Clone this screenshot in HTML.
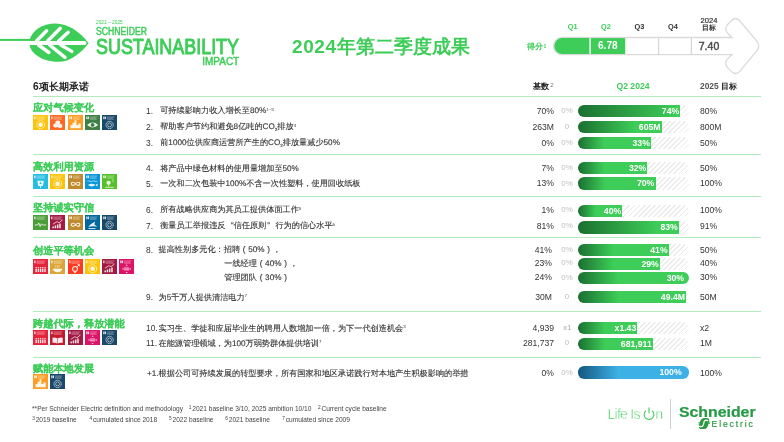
<!DOCTYPE html>
<html><head><meta charset="utf-8">
<style>
html,body{margin:0;padding:0;background:#fff;}
body{width:784px;height:442px;position:relative;overflow:hidden;font-family:"Liberation Sans",sans-serif;}
#wrap{position:absolute;left:0;top:0;width:784px;height:442px;will-change:transform;}
.abs{position:absolute;}
.t{position:absolute;white-space:nowrap;}
sup{font-size:55%;vertical-align:0;position:relative;top:-0.6em;color:#333;-webkit-text-stroke:0;letter-spacing:0;}
.fw{display:inline-block;width:8.2px;text-align:center;}
sub{font-size:55%;vertical-align:0;position:relative;top:0.25em;}
.hatch{background:repeating-linear-gradient(135deg,#ebebeb 0px,#ebebeb 1.3px,#fff 1.3px,#fff 3.6px);border-radius:6px;}
.rt{-webkit-text-stroke:0.12px #333;text-rendering:geometricPrecision;}
.gp{text-rendering:geometricPrecision;}
</style></head><body><div id="wrap">
<svg class="abs" style="left:0;top:0" width="100" height="70" viewBox="0 0 100 70">
<rect x="0" y="38.9" width="31" height="2" fill="#3dcd58"/>
<path d="M29.6,39.8 C32,31 42,23.6 55.5,23.6 C68,23.6 80,32 88.6,43.2 C80,54 70,61.7 58.6,61.7 C43,61.7 31,54 29.6,44.9 Z" fill="#3dcd58"/>
<path d="M29,42.9 L84.5,42.9" stroke="#fff" stroke-width="4" stroke-linecap="round"/>
<g stroke="#fff" stroke-width="3.4" stroke-linecap="round" fill="none">
<path d="M36.5,41 L46.6,30.8"/><path d="M47.6,41 L60.3,28.3"/><path d="M58.8,41 L68.2,32.2"/>
<path d="M38.5,45 L48.9,52.5"/><path d="M49.6,45 L65,57.4"/><path d="M60.8,45 L71.8,51.4"/>
</g>
</svg>
<div class="t " style="left:96px;top:20.10px;font-size:5.6px;line-height:5.6px;color:#3dcd58;font-weight:normal;transform-origin:0 50%;transform:scaleX(0.86);">2021 – 2025</div>
<div class="t " style="left:96.2px;top:27.30px;font-size:10px;line-height:10px;color:#3dcd58;font-weight:normal;-webkit-text-stroke:0.45px #3dcd58;transform-origin:0 50%;transform:scaleX(0.865);">SCHNEIDER</div>
<div class="t " style="left:95.8px;top:36.00px;font-size:22.4px;line-height:22.4px;color:#3dcd58;font-weight:normal;-webkit-text-stroke:1px #3dcd58;transform-origin:0 50%;transform:scaleX(0.80);">SUSTAINABILITY</div>
<div class="t " style="left:202.2px;top:57.20px;font-size:10px;line-height:10px;color:#3dcd58;font-weight:normal;-webkit-text-stroke:0.45px #3dcd58;transform-origin:0 50%;transform:scaleX(1.0);">IMPACT</div>
<div class="t " style="left:292px;top:36.70px;font-size:19px;line-height:19px;color:#3dcd58;font-weight:bold;"><span style="letter-spacing:0.6px">2024</span>年第二季度成果</div>
<svg class="abs" style="left:0;top:0" width="784" height="90" viewBox="0 0 784 90">
<path d="M562,37.5 L732,37.5 L728,33.5 Q723.6,29 727.6,24.5 L731.5,20.5 Q735.5,16.6 739.5,20.5 L756.8,41.2 Q760.6,46.05 756.8,50.9 L739.5,71.6 Q735.5,75.5 731.5,71.6 L727.6,67.6 Q723.6,63.1 728,58.6 L732,54.6 L562,54.6 A8.55,8.55 0 0 1 562,37.5 Z" fill="#fff" stroke="#dadada" stroke-width="1.3"/>
<path d="M562.2,38.1 L589.4,38.1 L589.4,54 L562.2,54 A7.95,7.95 0 0 1 562.2,38.1 Z" fill="#3dcd58"/>
<rect x="590.8" y="38.1" width="34.4" height="15.9" fill="#3dcd58"/>
<line x1="658.6" y1="38" x2="658.6" y2="54.2" stroke="#d6d6d6" stroke-width="1.2"/>
<line x1="691.4" y1="38" x2="691.4" y2="54.2" stroke="#d6d6d6" stroke-width="1.2"/>
</svg>
<div class="t " style="left:572.6px;top:22.90px;font-size:7.4px;line-height:7.4px;color:#3dcd58;font-weight:bold;transform:translateX(-50%);">Q1</div>
<div class="t " style="left:606px;top:22.90px;font-size:7.4px;line-height:7.4px;color:#3dcd58;font-weight:bold;transform:translateX(-50%);">Q2</div>
<div class="t " style="left:639.4px;top:22.90px;font-size:7.4px;line-height:7.4px;color:#333;font-weight:bold;transform:translateX(-50%);">Q3</div>
<div class="t " style="left:673px;top:22.90px;font-size:7.4px;line-height:7.4px;color:#333;font-weight:bold;transform:translateX(-50%);">Q4</div>
<div class="t " style="left:709px;top:16.60px;font-size:7.6px;line-height:7.6px;color:#333;font-weight:normal;transform:translateX(-50%);-webkit-text-stroke:0.2px #333;">2024</div>
<div class="t " style="left:709px;top:24.30px;font-size:7.4px;line-height:7.4px;color:#333;font-weight:bold;transform:translateX(-50%);">目标</div>
<div class="t " style="left:527px;top:42.40px;font-size:8.4px;line-height:8.4px;color:#3dcd58;font-weight:bold;">得分<span style="font-size:5px;position:relative;top:-1.6px;margin-left:0.6px">1</span></div>
<div class="t " style="left:607.8px;top:41.25px;font-size:10.1px;line-height:10.1px;color:#fff;font-weight:bold;transform:translateX(-50%);">6.78</div>
<div class="t " style="left:709px;top:41.05px;font-size:10.5px;line-height:10.5px;color:#4a4a4a;font-weight:normal;transform:translateX(-50%);-webkit-text-stroke:0.45px #4a4a4a;">7.40</div>
<div class="t " style="left:33px;top:82.00px;font-size:10.2px;line-height:10.2px;color:#222;font-weight:bold;">6项长期承诺</div>
<div class="t " style="left:533px;top:82.90px;font-size:8.2px;line-height:8.2px;color:#222;font-weight:bold;">基数<span style="font-size:6px;color:#777;font-weight:normal;position:relative;top:-2.2px;margin-left:1.2px">2</span></div>
<div class="t " style="left:633px;top:82.30px;font-size:8.6px;line-height:8.6px;color:#3dcd58;font-weight:bold;transform:translateX(-50%);">Q2 2024</div>
<div class="t " style="left:700px;top:82.30px;font-size:8.4px;line-height:8.4px;color:#222;font-weight:bold;"><span style="color:#555">2025</span> <span style="font-size:7.6px">目标</span></div>
<div class="abs" style="left:33px;top:96.0px;width:728px;height:1px;background:#b2e9bd"></div>
<div class="abs" style="left:33px;top:154.0px;width:728px;height:1px;background:#b2e9bd"></div>
<div class="abs" style="left:33px;top:196.0px;width:728px;height:1px;background:#b2e9bd"></div>
<div class="abs" style="left:33px;top:237.0px;width:728px;height:1px;background:#b2e9bd"></div>
<div class="abs" style="left:33px;top:311.3px;width:728px;height:1px;background:#b2e9bd"></div>
<div class="abs" style="left:33px;top:356.9px;width:728px;height:1px;background:#b2e9bd"></div>
<div class="t gp" style="left:33px;top:104.10px;font-size:10.2px;line-height:10.2px;color:#3dcd58;font-weight:bold;-webkit-text-stroke:0.1px #3dcd58;">应对气候变化</div>
<svg class="abs" style="left:33.0px;top:114.9px" width="15.2" height="15.2" viewBox="0 0 15 15"><rect width="15" height="15" fill="#FCC30B"/><rect x="1.20" y="1.5" width="1.25" height="2.6" fill="#fff" opacity=".85"/><path d="M3.45,2 H12.2 M3.45,3.1 H11 M3.45,4.2 H11.6" stroke="#fff" stroke-width=".6" opacity=".55"/><g opacity=".9" transform="translate(7.5,9.8) scale(1.12) translate(-7.5,-9.6)"><circle cx="7.5" cy="9.4" r="2" fill="#fff"/><circle cx="7.5" cy="9.4" r="3.5" stroke="#fff" stroke-width=".9" stroke-dasharray=".8 .65" fill="none"/></g></svg>
<svg class="abs" style="left:50.25px;top:114.9px" width="15.2" height="15.2" viewBox="0 0 15 15"><rect width="15" height="15" fill="#FD6925"/><rect x="1.20" y="1.5" width="1.25" height="2.6" fill="#fff" opacity=".85"/><path d="M3.45,2 H12.2 M3.45,3.1 H11 M3.45,4.2 H11.6" stroke="#fff" stroke-width=".6" opacity=".55"/><g opacity=".9" transform="translate(7.5,9.8) scale(1.12) translate(-7.5,-9.6)"><path d="M3.8,9 l2,-1 l2,1 v2.2 l-2,1 l-2,-1 z M7.6,9.4 l2,-1 l2,1 v2.2 l-2,1 l-2,-1 z M5.7,6.4 l2,-1 l2,1 v2 l-2,1 l-2,-1 z" fill="#fff"/></g></svg>
<svg class="abs" style="left:67.5px;top:114.9px" width="15.2" height="15.2" viewBox="0 0 15 15"><rect width="15" height="15" fill="#FD9D24"/><rect x="1.20" y="1.5" width="1.25" height="2.6" fill="#fff" opacity=".85"/><rect x="2.75" y="1.5" width="1.25" height="2.6" fill="#fff" opacity=".85"/><path d="M5.00,2 H12.2 M5.00,3.1 H11 M5.00,4.2 H11.6" stroke="#fff" stroke-width=".6" opacity=".55"/><g opacity=".9" transform="translate(7.5,9.8) scale(1.12) translate(-7.5,-9.6)"><path d="M3,12.6 v-3 h1.8 v-2 h1.8 v-2.2 h1.6 v4.2 h1.8 v-1.2 h2 v4.2 z" fill="#fff"/></g></svg>
<svg class="abs" style="left:84.75px;top:114.9px" width="15.2" height="15.2" viewBox="0 0 15 15"><rect width="15" height="15" fill="#3F7E44"/><rect x="1.20" y="1.5" width="1.25" height="2.6" fill="#fff" opacity=".85"/><rect x="2.75" y="1.5" width="1.25" height="2.6" fill="#fff" opacity=".85"/><path d="M5.00,2 H12.2 M5.00,3.1 H11 M5.00,4.2 H11.6" stroke="#fff" stroke-width=".6" opacity=".55"/><g opacity=".9" transform="translate(7.5,9.8) scale(1.12) translate(-7.5,-9.6)"><path d="M2.6,9.6 q4.9,-4.4 9.8,0 q-4.9,4.4 -9.8,0 z" fill="#fff"/><circle cx="7.5" cy="9.6" r="1.7" fill="#3F7E44"/></g></svg>
<svg class="abs" style="left:102.0px;top:114.9px" width="15.2" height="15.2" viewBox="0 0 15 15"><rect width="15" height="15" fill="#19486A"/><rect x="1.20" y="1.5" width="1.25" height="2.6" fill="#fff" opacity=".85"/><rect x="2.75" y="1.5" width="1.25" height="2.6" fill="#fff" opacity=".85"/><path d="M5.00,2 H12.2 M5.00,3.1 H11 M5.00,4.2 H11.6" stroke="#fff" stroke-width=".6" opacity=".55"/><g opacity=".9" transform="translate(7.5,9.8) scale(1.12) translate(-7.5,-9.6)"><circle cx="7.5" cy="9.6" r="3.2" stroke="#fff" stroke-width=".75" stroke-dasharray="1.3 .5" fill="none"/><circle cx="7.5" cy="9.6" r="1.7" stroke="#fff" stroke-width=".55" fill="none"/></g></svg>
<div class="t gp" style="left:33px;top:163.10px;font-size:10.2px;line-height:10.2px;color:#3dcd58;font-weight:bold;-webkit-text-stroke:0.1px #3dcd58;">高效利用资源</div>
<svg class="abs" style="left:33.0px;top:174.0px" width="15.2" height="15.2" viewBox="0 0 15 15"><rect width="15" height="15" fill="#26BDE2"/><rect x="1.20" y="1.5" width="1.25" height="2.6" fill="#fff" opacity=".85"/><path d="M3.45,2 H12.2 M3.45,3.1 H11 M3.45,4.2 H11.6" stroke="#fff" stroke-width=".6" opacity=".55"/><g opacity=".9" transform="translate(7.5,9.8) scale(1.12) translate(-7.5,-9.6)"><path d="M4.6,6.8 h5.8 l-.9,4.6 h-4 z" fill="#fff"/><path d="M7.5,11.4 v1.9" stroke="#fff" stroke-width=".9"/><path d="M7.5,7.6 l-1,1.6 a1.1,1.1 0 0 0 2,0 z" fill="#26BDE2"/></g></svg>
<svg class="abs" style="left:50.25px;top:174.0px" width="15.2" height="15.2" viewBox="0 0 15 15"><rect width="15" height="15" fill="#FCC30B"/><rect x="1.20" y="1.5" width="1.25" height="2.6" fill="#fff" opacity=".85"/><path d="M3.45,2 H12.2 M3.45,3.1 H11 M3.45,4.2 H11.6" stroke="#fff" stroke-width=".6" opacity=".55"/><g opacity=".9" transform="translate(7.5,9.8) scale(1.12) translate(-7.5,-9.6)"><circle cx="7.5" cy="9.4" r="2" fill="#fff"/><circle cx="7.5" cy="9.4" r="3.5" stroke="#fff" stroke-width=".9" stroke-dasharray=".8 .65" fill="none"/></g></svg>
<svg class="abs" style="left:67.5px;top:174.0px" width="15.2" height="15.2" viewBox="0 0 15 15"><rect width="15" height="15" fill="#BF8B2E"/><rect x="1.20" y="1.5" width="1.25" height="2.6" fill="#fff" opacity=".85"/><rect x="2.75" y="1.5" width="1.25" height="2.6" fill="#fff" opacity=".85"/><path d="M5.00,2 H12.2 M5.00,3.1 H11 M5.00,4.2 H11.6" stroke="#fff" stroke-width=".6" opacity=".55"/><g opacity=".9" transform="translate(7.5,9.8) scale(1.12) translate(-7.5,-9.6)"><path d="M7.5,9.5 c-1.3,-1.8 -3.8,-1.8 -3.8,0 c0,1.8 2.5,1.8 3.8,0 c1.3,-1.8 3.8,-1.8 3.8,0 c0,1.8 -2.5,1.8 -3.8,0 z" stroke="#fff" stroke-width=".95" fill="none"/></g></svg>
<svg class="abs" style="left:84.75px;top:174.0px" width="15.2" height="15.2" viewBox="0 0 15 15"><rect width="15" height="15" fill="#0A97D9"/><rect x="1.20" y="1.5" width="1.25" height="2.6" fill="#fff" opacity=".85"/><rect x="2.75" y="1.5" width="1.25" height="2.6" fill="#fff" opacity=".85"/><path d="M5.00,2 H12.2 M5.00,3.1 H11 M5.00,4.2 H11.6" stroke="#fff" stroke-width=".6" opacity=".55"/><g opacity=".9" transform="translate(7.5,9.8) scale(1.12) translate(-7.5,-9.6)"><path d="M3,7.2 q1.1,-.6 2.2,0 t2.2,0 t2.2,0 t2.2,0" stroke="#fff" stroke-width=".6" fill="none"/><path d="M3.4,10.6 q3.4,-2.4 6.6,0 q-3.2,2.4 -6.6,0 z M10,10.6 l1.8,-1.3 v2.6 z" fill="#fff"/></g></svg>
<svg class="abs" style="left:102.0px;top:174.0px" width="15.2" height="15.2" viewBox="0 0 15 15"><rect width="15" height="15" fill="#56C02B"/><rect x="1.20" y="1.5" width="1.25" height="2.6" fill="#fff" opacity=".85"/><rect x="2.75" y="1.5" width="1.25" height="2.6" fill="#fff" opacity=".85"/><path d="M5.00,2 H12.2 M5.00,3.1 H11 M5.00,4.2 H11.6" stroke="#fff" stroke-width=".6" opacity=".55"/><g opacity=".9" transform="translate(7.5,9.8) scale(1.12) translate(-7.5,-9.6)"><circle cx="6.6" cy="8.6" r="1.9" fill="#fff"/><path d="M6.6,10.4 v1.4 M3.6,12.6 h7.6 M9.6,6.6 l1.2,-.8 M10.2,8 l1,-.6" stroke="#fff" stroke-width=".7"/></g></svg>
<div class="t gp" style="left:33px;top:204.20px;font-size:10.2px;line-height:10.2px;color:#3dcd58;font-weight:bold;-webkit-text-stroke:0.1px #3dcd58;">坚持诚实守信</div>
<svg class="abs" style="left:33.0px;top:214.8px" width="15.2" height="15.2" viewBox="0 0 15 15"><rect width="15" height="15" fill="#4C9F38"/><rect x="1.20" y="1.5" width="1.25" height="2.6" fill="#fff" opacity=".85"/><path d="M3.45,2 H12.2 M3.45,3.1 H11 M3.45,4.2 H11.6" stroke="#fff" stroke-width=".6" opacity=".55"/><g opacity=".9" transform="translate(7.5,9.8) scale(1.12) translate(-7.5,-9.6)"><path d="M2.4,9.6 h2.6 l.9,-1.8 l1.2,3.2 l1.1,-2.4 l.7,1 h3.6" stroke="#fff" stroke-width=".75" fill="none"/></g></svg>
<svg class="abs" style="left:50.25px;top:214.8px" width="15.2" height="15.2" viewBox="0 0 15 15"><rect width="15" height="15" fill="#A21942"/><rect x="1.20" y="1.5" width="1.25" height="2.6" fill="#fff" opacity=".85"/><path d="M3.45,2 H12.2 M3.45,3.1 H11 M3.45,4.2 H11.6" stroke="#fff" stroke-width=".6" opacity=".55"/><g opacity=".9" transform="translate(7.5,9.8) scale(1.12) translate(-7.5,-9.6)"><path d="M3.6,12.6 v-1.6 M5.6,12.6 v-2.6 M7.6,12.6 v-3.4 M9.6,12.6 v-4.2" stroke="#fff" stroke-width="1.3"/><path d="M3.4,9 l3.4,-2.2 l2,.8 l3,-2.4" stroke="#fff" stroke-width=".7" fill="none"/></g></svg>
<svg class="abs" style="left:67.5px;top:214.8px" width="15.2" height="15.2" viewBox="0 0 15 15"><rect width="15" height="15" fill="#BF8B2E"/><rect x="1.20" y="1.5" width="1.25" height="2.6" fill="#fff" opacity=".85"/><rect x="2.75" y="1.5" width="1.25" height="2.6" fill="#fff" opacity=".85"/><path d="M5.00,2 H12.2 M5.00,3.1 H11 M5.00,4.2 H11.6" stroke="#fff" stroke-width=".6" opacity=".55"/><g opacity=".9" transform="translate(7.5,9.8) scale(1.12) translate(-7.5,-9.6)"><path d="M7.5,9.5 c-1.3,-1.8 -3.8,-1.8 -3.8,0 c0,1.8 2.5,1.8 3.8,0 c1.3,-1.8 3.8,-1.8 3.8,0 c0,1.8 -2.5,1.8 -3.8,0 z" stroke="#fff" stroke-width=".95" fill="none"/></g></svg>
<svg class="abs" style="left:84.75px;top:214.8px" width="15.2" height="15.2" viewBox="0 0 15 15"><rect width="15" height="15" fill="#00689D"/><rect x="1.20" y="1.5" width="1.25" height="2.6" fill="#fff" opacity=".85"/><rect x="2.75" y="1.5" width="1.25" height="2.6" fill="#fff" opacity=".85"/><path d="M5.00,2 H12.2 M5.00,3.1 H11 M5.00,4.2 H11.6" stroke="#fff" stroke-width=".6" opacity=".55"/><g opacity=".9" transform="translate(7.5,9.8) scale(1.12) translate(-7.5,-9.6)"><path d="M3.6,11.2 l2.8,-2.6 l3.4,-2 l-.8,2.6 l2.6,1.8 l-4,-.2 z" fill="#fff"/><path d="M4,12.8 h6" stroke="#fff" stroke-width=".8"/></g></svg>
<svg class="abs" style="left:102.0px;top:214.8px" width="15.2" height="15.2" viewBox="0 0 15 15"><rect width="15" height="15" fill="#19486A"/><rect x="1.20" y="1.5" width="1.25" height="2.6" fill="#fff" opacity=".85"/><rect x="2.75" y="1.5" width="1.25" height="2.6" fill="#fff" opacity=".85"/><path d="M5.00,2 H12.2 M5.00,3.1 H11 M5.00,4.2 H11.6" stroke="#fff" stroke-width=".6" opacity=".55"/><g opacity=".9" transform="translate(7.5,9.8) scale(1.12) translate(-7.5,-9.6)"><circle cx="7.5" cy="9.6" r="3.2" stroke="#fff" stroke-width=".75" stroke-dasharray="1.3 .5" fill="none"/><circle cx="7.5" cy="9.6" r="1.7" stroke="#fff" stroke-width=".55" fill="none"/></g></svg>
<div class="t gp" style="left:33px;top:247.30px;font-size:10.2px;line-height:10.2px;color:#3dcd58;font-weight:bold;-webkit-text-stroke:0.1px #3dcd58;">创造平等机会</div>
<svg class="abs" style="left:33.0px;top:259.0px" width="15.2" height="15.2" viewBox="0 0 15 15"><rect width="15" height="15" fill="#E5243B"/><rect x="1.20" y="1.5" width="1.25" height="2.6" fill="#fff" opacity=".85"/><path d="M3.45,2 H12.2 M3.45,3.1 H11 M3.45,4.2 H11.6" stroke="#fff" stroke-width=".6" opacity=".55"/><g opacity=".9" transform="translate(7.5,9.8) scale(1.12) translate(-7.5,-9.6)"><circle cx="3.6" cy="8.6" r="0.65" fill="#fff"/><rect x="3.0" y="9.5" width="1.2" height="2.9" fill="#fff"/><circle cx="5.6" cy="8.6" r="0.65" fill="#fff"/><rect x="5.0" y="9.5" width="1.2" height="2.9" fill="#fff"/><circle cx="7.5" cy="8.6" r="0.65" fill="#fff"/><rect x="6.9" y="9.5" width="1.2" height="2.9" fill="#fff"/><circle cx="9.4" cy="8.6" r="0.65" fill="#fff"/><rect x="8.8" y="9.5" width="1.2" height="2.9" fill="#fff"/><circle cx="11.4" cy="8.6" r="0.65" fill="#fff"/><rect x="10.8" y="9.5" width="1.2" height="2.9" fill="#fff"/></g></svg>
<svg class="abs" style="left:50.25px;top:259.0px" width="15.2" height="15.2" viewBox="0 0 15 15"><rect width="15" height="15" fill="#DDA63A"/><rect x="1.20" y="1.5" width="1.25" height="2.6" fill="#fff" opacity=".85"/><path d="M3.45,2 H12.2 M3.45,3.1 H11 M3.45,4.2 H11.6" stroke="#fff" stroke-width=".6" opacity=".55"/><g opacity=".9" transform="translate(7.5,9.8) scale(1.12) translate(-7.5,-9.6)"><path d="M3.4,9.4 h8.2 a4.1,3.1 0 0 1 -8.2,0 z" fill="#fff"/><path d="M6,8.4 q-.6,-1 0,-2 M7.5,8.4 q-.6,-1 0,-2 M9,8.4 q-.6,-1 0,-2" stroke="#fff" stroke-width=".5" fill="none"/></g></svg>
<svg class="abs" style="left:67.5px;top:259.0px" width="15.2" height="15.2" viewBox="0 0 15 15"><rect width="15" height="15" fill="#FF3A21"/><rect x="1.20" y="1.5" width="1.25" height="2.6" fill="#fff" opacity=".85"/><path d="M3.45,2 H12.2 M3.45,3.1 H11 M3.45,4.2 H11.6" stroke="#fff" stroke-width=".6" opacity=".55"/><g opacity=".9" transform="translate(7.5,9.8) scale(1.12) translate(-7.5,-9.6)"><circle cx="7" cy="9.6" r="2.1" stroke="#fff" stroke-width=".9" fill="none"/><path d="M8.5,8.1 l2.2,-2.2 M9.3,5.8 h1.5 v1.5 M7,11.7 v1.6 M6.1,12.6 h1.8" stroke="#fff" stroke-width=".8" fill="none"/></g></svg>
<svg class="abs" style="left:84.75px;top:259.0px" width="15.2" height="15.2" viewBox="0 0 15 15"><rect width="15" height="15" fill="#FCC30B"/><rect x="1.20" y="1.5" width="1.25" height="2.6" fill="#fff" opacity=".85"/><path d="M3.45,2 H12.2 M3.45,3.1 H11 M3.45,4.2 H11.6" stroke="#fff" stroke-width=".6" opacity=".55"/><g opacity=".9" transform="translate(7.5,9.8) scale(1.12) translate(-7.5,-9.6)"><circle cx="7.5" cy="9.4" r="2" fill="#fff"/><circle cx="7.5" cy="9.4" r="3.5" stroke="#fff" stroke-width=".9" stroke-dasharray=".8 .65" fill="none"/></g></svg>
<svg class="abs" style="left:102.0px;top:259.0px" width="15.2" height="15.2" viewBox="0 0 15 15"><rect width="15" height="15" fill="#A21942"/><rect x="1.20" y="1.5" width="1.25" height="2.6" fill="#fff" opacity=".85"/><path d="M3.45,2 H12.2 M3.45,3.1 H11 M3.45,4.2 H11.6" stroke="#fff" stroke-width=".6" opacity=".55"/><g opacity=".9" transform="translate(7.5,9.8) scale(1.12) translate(-7.5,-9.6)"><path d="M3.6,12.6 v-1.6 M5.6,12.6 v-2.6 M7.6,12.6 v-3.4 M9.6,12.6 v-4.2" stroke="#fff" stroke-width="1.3"/><path d="M3.4,9 l3.4,-2.2 l2,.8 l3,-2.4" stroke="#fff" stroke-width=".7" fill="none"/></g></svg>
<svg class="abs" style="left:119.25px;top:259.0px" width="15.2" height="15.2" viewBox="0 0 15 15"><rect width="15" height="15" fill="#DD1367"/><rect x="1.20" y="1.5" width="1.25" height="2.6" fill="#fff" opacity=".85"/><rect x="2.75" y="1.5" width="1.25" height="2.6" fill="#fff" opacity=".85"/><path d="M5.00,2 H12.2 M5.00,3.1 H11 M5.00,4.2 H11.6" stroke="#fff" stroke-width=".6" opacity=".55"/><g opacity=".9" transform="translate(7.5,9.8) scale(1.12) translate(-7.5,-9.6)"><path d="M5.3,8.8 h4.4 M5.3,10.4 h4.4" stroke="#fff" stroke-width=".8"/><path d="M7.5,5.8 l-1,1.1 h2 z M7.5,13.4 l-1,-1.1 h2 z M3.6,9.6 l1.1,-1 v2 z M11.4,9.6 l-1.1,-1 v2 z" fill="#fff"/></g></svg>
<div class="t gp" style="left:33px;top:319.90px;font-size:10.2px;line-height:10.2px;color:#3dcd58;font-weight:bold;-webkit-text-stroke:0.1px #3dcd58;">跨越代际，释放潜能</div>
<svg class="abs" style="left:33.0px;top:330.0px" width="15.2" height="15.2" viewBox="0 0 15 15"><rect width="15" height="15" fill="#E5243B"/><rect x="1.20" y="1.5" width="1.25" height="2.6" fill="#fff" opacity=".85"/><path d="M3.45,2 H12.2 M3.45,3.1 H11 M3.45,4.2 H11.6" stroke="#fff" stroke-width=".6" opacity=".55"/><g opacity=".9" transform="translate(7.5,9.8) scale(1.12) translate(-7.5,-9.6)"><circle cx="3.6" cy="8.6" r="0.65" fill="#fff"/><rect x="3.0" y="9.5" width="1.2" height="2.9" fill="#fff"/><circle cx="5.6" cy="8.6" r="0.65" fill="#fff"/><rect x="5.0" y="9.5" width="1.2" height="2.9" fill="#fff"/><circle cx="7.5" cy="8.6" r="0.65" fill="#fff"/><rect x="6.9" y="9.5" width="1.2" height="2.9" fill="#fff"/><circle cx="9.4" cy="8.6" r="0.65" fill="#fff"/><rect x="8.8" y="9.5" width="1.2" height="2.9" fill="#fff"/><circle cx="11.4" cy="8.6" r="0.65" fill="#fff"/><rect x="10.8" y="9.5" width="1.2" height="2.9" fill="#fff"/></g></svg>
<svg class="abs" style="left:50.25px;top:330.0px" width="15.2" height="15.2" viewBox="0 0 15 15"><rect width="15" height="15" fill="#C5192D"/><rect x="1.20" y="1.5" width="1.25" height="2.6" fill="#fff" opacity=".85"/><path d="M3.45,2 H12.2 M3.45,3.1 H11 M3.45,4.2 H11.6" stroke="#fff" stroke-width=".6" opacity=".55"/><g opacity=".9" transform="translate(7.5,9.8) scale(1.12) translate(-7.5,-9.6)"><path d="M3,7.6 q2.2,-.6 4.3,.5 v4.6 q-2.1,-1 -4.3,-.5 z M7.7,8.1 q2.1,-1.1 4.3,-.5 v4.6 q-2.2,-.5 -4.3,.5 z" fill="#fff"/></g></svg>
<svg class="abs" style="left:67.5px;top:330.0px" width="15.2" height="15.2" viewBox="0 0 15 15"><rect width="15" height="15" fill="#A21942"/><rect x="1.20" y="1.5" width="1.25" height="2.6" fill="#fff" opacity=".85"/><path d="M3.45,2 H12.2 M3.45,3.1 H11 M3.45,4.2 H11.6" stroke="#fff" stroke-width=".6" opacity=".55"/><g opacity=".9" transform="translate(7.5,9.8) scale(1.12) translate(-7.5,-9.6)"><path d="M3.6,12.6 v-1.6 M5.6,12.6 v-2.6 M7.6,12.6 v-3.4 M9.6,12.6 v-4.2" stroke="#fff" stroke-width="1.3"/><path d="M3.4,9 l3.4,-2.2 l2,.8 l3,-2.4" stroke="#fff" stroke-width=".7" fill="none"/></g></svg>
<svg class="abs" style="left:84.75px;top:330.0px" width="15.2" height="15.2" viewBox="0 0 15 15"><rect width="15" height="15" fill="#DD1367"/><rect x="1.20" y="1.5" width="1.25" height="2.6" fill="#fff" opacity=".85"/><rect x="2.75" y="1.5" width="1.25" height="2.6" fill="#fff" opacity=".85"/><path d="M5.00,2 H12.2 M5.00,3.1 H11 M5.00,4.2 H11.6" stroke="#fff" stroke-width=".6" opacity=".55"/><g opacity=".9" transform="translate(7.5,9.8) scale(1.12) translate(-7.5,-9.6)"><path d="M5.3,8.8 h4.4 M5.3,10.4 h4.4" stroke="#fff" stroke-width=".8"/><path d="M7.5,5.8 l-1,1.1 h2 z M7.5,13.4 l-1,-1.1 h2 z M3.6,9.6 l1.1,-1 v2 z M11.4,9.6 l-1.1,-1 v2 z" fill="#fff"/></g></svg>
<svg class="abs" style="left:102.0px;top:330.0px" width="15.2" height="15.2" viewBox="0 0 15 15"><rect width="15" height="15" fill="#19486A"/><rect x="1.20" y="1.5" width="1.25" height="2.6" fill="#fff" opacity=".85"/><rect x="2.75" y="1.5" width="1.25" height="2.6" fill="#fff" opacity=".85"/><path d="M5.00,2 H12.2 M5.00,3.1 H11 M5.00,4.2 H11.6" stroke="#fff" stroke-width=".6" opacity=".55"/><g opacity=".9" transform="translate(7.5,9.8) scale(1.12) translate(-7.5,-9.6)"><circle cx="7.5" cy="9.6" r="3.2" stroke="#fff" stroke-width=".75" stroke-dasharray="1.3 .5" fill="none"/><circle cx="7.5" cy="9.6" r="1.7" stroke="#fff" stroke-width=".55" fill="none"/></g></svg>
<div class="t gp" style="left:33px;top:365.20px;font-size:10.2px;line-height:10.2px;color:#3dcd58;font-weight:bold;-webkit-text-stroke:0.1px #3dcd58;">赋能本地发展</div>
<svg class="abs" style="left:33.0px;top:374.2px" width="15.2" height="15.2" viewBox="0 0 15 15"><rect width="15" height="15" fill="#FD9D24"/><rect x="1.20" y="1.5" width="1.25" height="2.6" fill="#fff" opacity=".85"/><rect x="2.75" y="1.5" width="1.25" height="2.6" fill="#fff" opacity=".85"/><path d="M5.00,2 H12.2 M5.00,3.1 H11 M5.00,4.2 H11.6" stroke="#fff" stroke-width=".6" opacity=".55"/><g opacity=".9" transform="translate(7.5,9.8) scale(1.12) translate(-7.5,-9.6)"><path d="M3,12.6 v-3 h1.8 v-2 h1.8 v-2.2 h1.6 v4.2 h1.8 v-1.2 h2 v4.2 z" fill="#fff"/></g></svg>
<svg class="abs" style="left:50.25px;top:374.2px" width="15.2" height="15.2" viewBox="0 0 15 15"><rect width="15" height="15" fill="#19486A"/><rect x="1.20" y="1.5" width="1.25" height="2.6" fill="#fff" opacity=".85"/><rect x="2.75" y="1.5" width="1.25" height="2.6" fill="#fff" opacity=".85"/><path d="M5.00,2 H12.2 M5.00,3.1 H11 M5.00,4.2 H11.6" stroke="#fff" stroke-width=".6" opacity=".55"/><g opacity=".9" transform="translate(7.5,9.8) scale(1.12) translate(-7.5,-9.6)"><circle cx="7.5" cy="9.6" r="3.2" stroke="#fff" stroke-width=".75" stroke-dasharray="1.3 .5" fill="none"/><circle cx="7.5" cy="9.6" r="1.7" stroke="#fff" stroke-width=".55" fill="none"/></g></svg>
<div class="t " style="left:146px;top:107.10px;font-size:8.4px;line-height:8.4px;color:#333;font-weight:normal;">1.</div>
<div class="t rt" style="left:160.2px;top:107.42px;font-size:8.16px;line-height:8.16px;color:#333;font-weight:normal;">可持续影响力收入增长至80%<sup>1~3</sup></div>
<div class="t " style="left:554px;top:106.60px;font-size:8.6px;line-height:8.6px;color:#333;font-weight:normal;transform:translateX(-100%);">70%</div>
<div class="t " style="left:567px;top:106.95px;font-size:7.9px;line-height:7.9px;color:#bdbdbd;font-weight:normal;transform:translateX(-50%);">0%</div>
<div class="t " style="left:700px;top:106.60px;font-size:8.6px;line-height:8.6px;color:#333;font-weight:normal;">80%</div>
<div class="abs hatch" style="left:578.2px;top:104.70px;width:110.5px;height:12.4px;"></div>
<div class="abs" style="left:578.2px;top:104.70px;width:102.21px;height:12.4px;border-radius:6.2px 0px 0px 6.2px;background:linear-gradient(90deg,#1b6f30 0%,#3dcd58 96.9%,#3dcd58 100%);"></div>
<div class="t " style="left:679.2125px;top:106.75px;font-size:8.7px;line-height:8.7px;color:#fff;font-weight:bold;transform:translateX(-100%);">74%</div>
<div class="t " style="left:146px;top:123.10px;font-size:8.4px;line-height:8.4px;color:#333;font-weight:normal;">2.</div>
<div class="t rt" style="left:160.2px;top:123.42px;font-size:8.16px;line-height:8.16px;color:#333;font-weight:normal;">帮助客户节约和避免8亿吨的CO<sub>2</sub>排放<sup>4</sup></div>
<div class="t " style="left:554px;top:122.60px;font-size:8.6px;line-height:8.6px;color:#333;font-weight:normal;transform:translateX(-100%);">263M</div>
<div class="t " style="left:567px;top:122.95px;font-size:7.9px;line-height:7.9px;color:#bdbdbd;font-weight:normal;transform:translateX(-50%);">0</div>
<div class="t " style="left:700px;top:122.60px;font-size:8.6px;line-height:8.6px;color:#333;font-weight:normal;">800M</div>
<div class="abs hatch" style="left:578.2px;top:120.70px;width:110.5px;height:12.4px;"></div>
<div class="abs" style="left:578.2px;top:120.70px;width:83.57px;height:12.4px;border-radius:6.2px 0px 0px 6.2px;background:linear-gradient(90deg,#1b6f30 0%,#3dcd58 68.2%,#3dcd58 100%);"></div>
<div class="t " style="left:660.565625px;top:122.75px;font-size:8.7px;line-height:8.7px;color:#fff;font-weight:bold;transform:translateX(-100%);">605M</div>
<div class="t " style="left:146px;top:139.10px;font-size:8.4px;line-height:8.4px;color:#333;font-weight:normal;">3.</div>
<div class="t rt" style="left:160.2px;top:139.42px;font-size:8.16px;line-height:8.16px;color:#333;font-weight:normal;">前1000位供应商运营所产生的CO<sub>2</sub>排放量减少50%</div>
<div class="t " style="left:554px;top:138.60px;font-size:8.6px;line-height:8.6px;color:#333;font-weight:normal;transform:translateX(-100%);">0%</div>
<div class="t " style="left:567px;top:138.95px;font-size:7.9px;line-height:7.9px;color:#bdbdbd;font-weight:normal;transform:translateX(-50%);">0%</div>
<div class="t " style="left:700px;top:138.60px;font-size:8.6px;line-height:8.6px;color:#333;font-weight:normal;">50%</div>
<div class="abs hatch" style="left:578.2px;top:136.70px;width:110.5px;height:12.4px;"></div>
<div class="abs" style="left:578.2px;top:136.70px;width:72.93px;height:12.4px;border-radius:6.2px 0px 0px 6.2px;background:linear-gradient(90deg,#1b6f30 0%,#3dcd58 35.7%,#3dcd58 100%);"></div>
<div class="t " style="left:649.9300000000001px;top:138.75px;font-size:8.7px;line-height:8.7px;color:#fff;font-weight:bold;transform:translateX(-100%);">33%</div>
<div class="t " style="left:146px;top:164.20px;font-size:8.4px;line-height:8.4px;color:#333;font-weight:normal;">4.</div>
<div class="t rt" style="left:160.2px;top:164.52px;font-size:8.16px;line-height:8.16px;color:#333;font-weight:normal;">将产品中绿色材料的使用量增加至50%</div>
<div class="t " style="left:554px;top:163.70px;font-size:8.6px;line-height:8.6px;color:#333;font-weight:normal;transform:translateX(-100%);">7%</div>
<div class="t " style="left:567px;top:164.05px;font-size:7.9px;line-height:7.9px;color:#bdbdbd;font-weight:normal;transform:translateX(-50%);">0%</div>
<div class="t " style="left:700px;top:163.70px;font-size:8.6px;line-height:8.6px;color:#333;font-weight:normal;">50%</div>
<div class="abs hatch" style="left:578.2px;top:161.80px;width:110.5px;height:12.4px;"></div>
<div class="abs" style="left:578.2px;top:161.80px;width:69.30px;height:12.4px;border-radius:6.2px 0px 0px 6.2px;background:linear-gradient(90deg,#1b6f30 0%,#3dcd58 37.5%,#3dcd58 100%);"></div>
<div class="t " style="left:646.3px;top:163.85px;font-size:8.7px;line-height:8.7px;color:#fff;font-weight:bold;transform:translateX(-100%);">32%</div>
<div class="t " style="left:146px;top:179.80px;font-size:8.4px;line-height:8.4px;color:#333;font-weight:normal;">5.</div>
<div class="t rt" style="left:160.2px;top:180.12px;font-size:8.16px;line-height:8.16px;color:#333;font-weight:normal;">一次和二次包装中100%不含一次性塑料，使用回收纸板</div>
<div class="t " style="left:554px;top:179.30px;font-size:8.6px;line-height:8.6px;color:#333;font-weight:normal;transform:translateX(-100%);">13%</div>
<div class="t " style="left:567px;top:179.65px;font-size:7.9px;line-height:7.9px;color:#bdbdbd;font-weight:normal;transform:translateX(-50%);">0%</div>
<div class="t " style="left:700px;top:179.30px;font-size:8.6px;line-height:8.6px;color:#333;font-weight:normal;">100%</div>
<div class="abs hatch" style="left:578.2px;top:177.40px;width:110.5px;height:12.4px;"></div>
<div class="abs" style="left:578.2px;top:177.40px;width:77.35px;height:12.4px;border-radius:6.2px 0px 0px 6.2px;background:linear-gradient(90deg,#1b6f30 0%,#3dcd58 34.9%,#3dcd58 100%);"></div>
<div class="t " style="left:654.35px;top:179.45px;font-size:8.7px;line-height:8.7px;color:#fff;font-weight:bold;transform:translateX(-100%);">70%</div>
<div class="t " style="left:146px;top:206.00px;font-size:8.4px;line-height:8.4px;color:#333;font-weight:normal;">6.</div>
<div class="t rt" style="left:160.2px;top:206.32px;font-size:8.16px;line-height:8.16px;color:#333;font-weight:normal;">所有战略供应商为其员工提供体面工作<sup>5</sup></div>
<div class="t " style="left:554px;top:205.50px;font-size:8.6px;line-height:8.6px;color:#333;font-weight:normal;transform:translateX(-100%);">1%</div>
<div class="t " style="left:567px;top:205.85px;font-size:7.9px;line-height:7.9px;color:#bdbdbd;font-weight:normal;transform:translateX(-50%);">0%</div>
<div class="t " style="left:700px;top:205.50px;font-size:8.6px;line-height:8.6px;color:#333;font-weight:normal;">100%</div>
<div class="abs hatch" style="left:578.2px;top:205.10px;width:110.5px;height:12.4px;"></div>
<div class="abs" style="left:578.2px;top:205.10px;width:44.20px;height:12.4px;border-radius:6.2px 0px 0px 6.2px;background:linear-gradient(90deg,#1b6f30 0%,#3dcd58 40.7%,#3dcd58 100%);"></div>
<div class="t " style="left:621.2px;top:207.15px;font-size:8.7px;line-height:8.7px;color:#fff;font-weight:bold;transform:translateX(-100%);">40%</div>
<div class="t " style="left:146px;top:222.10px;font-size:8.4px;line-height:8.4px;color:#333;font-weight:normal;">7.</div>
<div class="t rt" style="left:160.2px;top:222.42px;font-size:8.16px;line-height:8.16px;color:#333;font-weight:normal;">衡量员工举报违反<span class="fw" style="text-align:right">“</span>信任原则<span class="fw" style="text-align:left;padding-left:1px">”</span>行为的信心水平<sup>6</sup></div>
<div class="t " style="left:554px;top:221.60px;font-size:8.6px;line-height:8.6px;color:#333;font-weight:normal;transform:translateX(-100%);">81%</div>
<div class="t " style="left:567px;top:221.95px;font-size:7.9px;line-height:7.9px;color:#bdbdbd;font-weight:normal;transform:translateX(-50%);">0%</div>
<div class="t " style="left:700px;top:221.60px;font-size:8.6px;line-height:8.6px;color:#333;font-weight:normal;">91%</div>
<div class="abs hatch" style="left:578.2px;top:221.20px;width:110.5px;height:12.4px;"></div>
<div class="abs" style="left:578.2px;top:221.20px;width:100.79px;height:12.4px;border-radius:6.2px 0px 0px 6.2px;background:linear-gradient(90deg,#1b6f30 0%,#3dcd58 78.4%,#3dcd58 100%);"></div>
<div class="t " style="left:677.7857142857142px;top:223.25px;font-size:8.7px;line-height:8.7px;color:#fff;font-weight:bold;transform:translateX(-100%);">83%</div>
<div class="t " style="left:146px;top:246.10px;font-size:8.4px;line-height:8.4px;color:#333;font-weight:normal;">8.</div>
<div class="t rt" style="left:158.5px;top:246.42px;font-size:8.16px;line-height:8.16px;color:#333;font-weight:normal;">提高性别多元化：招聘<span class="fw">(</span>50%<span class="fw">)</span>，</div>
<div class="t " style="left:552px;top:245.60px;font-size:8.6px;line-height:8.6px;color:#333;font-weight:normal;transform:translateX(-100%);">41%</div>
<div class="t " style="left:567px;top:245.95px;font-size:7.9px;line-height:7.9px;color:#bdbdbd;font-weight:normal;transform:translateX(-50%);">0%</div>
<div class="t " style="left:700px;top:245.60px;font-size:8.6px;line-height:8.6px;color:#333;font-weight:normal;">50%</div>
<div class="abs hatch" style="left:578.2px;top:243.70px;width:110.5px;height:12.4px;"></div>
<div class="abs" style="left:578.2px;top:243.70px;width:90.61px;height:12.4px;border-radius:6.2px 0px 0px 6.2px;background:linear-gradient(90deg,#1b6f30 0%,#3dcd58 38.6%,#3dcd58 100%);"></div>
<div class="t " style="left:667.61px;top:245.75px;font-size:8.7px;line-height:8.7px;color:#fff;font-weight:bold;transform:translateX(-100%);">41%</div>
<div class="t rt" style="left:224.3px;top:259.72px;font-size:8.16px;line-height:8.16px;color:#333;font-weight:normal;">一线经理<span class="fw">(</span>40%<span class="fw">)</span>，</div>
<div class="t " style="left:552px;top:258.90px;font-size:8.6px;line-height:8.6px;color:#333;font-weight:normal;transform:translateX(-100%);">23%</div>
<div class="t " style="left:567px;top:259.25px;font-size:7.9px;line-height:7.9px;color:#bdbdbd;font-weight:normal;transform:translateX(-50%);">0%</div>
<div class="t " style="left:700px;top:258.90px;font-size:8.6px;line-height:8.6px;color:#333;font-weight:normal;">40%</div>
<div class="abs hatch" style="left:578.2px;top:257.70px;width:110.5px;height:12.4px;"></div>
<div class="abs" style="left:578.2px;top:257.70px;width:81.80px;height:12.4px;border-radius:6.2px 0px 0px 6.2px;background:linear-gradient(90deg,#1b6f30 0%,#3dcd58 42.8%,#3dcd58 100%);"></div>
<div class="t " style="left:658.8px;top:259.75px;font-size:8.7px;line-height:8.7px;color:#fff;font-weight:bold;transform:translateX(-100%);">29%</div>
<div class="t rt" style="left:224.3px;top:274.22px;font-size:8.16px;line-height:8.16px;color:#333;font-weight:normal;">管理团队<span class="fw">(</span>30%<span class="fw">)</span></div>
<div class="t " style="left:552px;top:273.40px;font-size:8.6px;line-height:8.6px;color:#333;font-weight:normal;transform:translateX(-100%);">24%</div>
<div class="t " style="left:567px;top:273.75px;font-size:7.9px;line-height:7.9px;color:#bdbdbd;font-weight:normal;transform:translateX(-50%);">0%</div>
<div class="t " style="left:700px;top:273.40px;font-size:8.6px;line-height:8.6px;color:#333;font-weight:normal;">30%</div>
<div class="abs" style="left:578.2px;top:271.50px;width:110.50px;height:12.4px;border-radius:6.2px 6.2px 6.2px 6.2px;background:linear-gradient(90deg,#1b6f30 0%,#3dcd58 36.2%,#3dcd58 100%);"></div>
<div class="t " style="left:684.1px;top:273.55px;font-size:8.7px;line-height:8.7px;color:#fff;font-weight:bold;transform:translateX(-100%);">30%</div>
<div class="t " style="left:146px;top:293.40px;font-size:8.4px;line-height:8.4px;color:#333;font-weight:normal;">9.</div>
<div class="t rt" style="left:158.5px;top:293.72px;font-size:8.16px;line-height:8.16px;color:#333;font-weight:normal;">为5千万人提供清洁电力<sup>7</sup></div>
<div class="t " style="left:552px;top:292.90px;font-size:8.6px;line-height:8.6px;color:#333;font-weight:normal;transform:translateX(-100%);">30M</div>
<div class="t " style="left:567px;top:293.25px;font-size:7.9px;line-height:7.9px;color:#bdbdbd;font-weight:normal;transform:translateX(-50%);">0</div>
<div class="t " style="left:700px;top:292.90px;font-size:8.6px;line-height:8.6px;color:#333;font-weight:normal;">50M</div>
<div class="abs hatch" style="left:578.2px;top:291.00px;width:110.5px;height:12.4px;"></div>
<div class="abs" style="left:578.2px;top:291.00px;width:108.00px;height:12.4px;border-radius:6.2px 0px 0px 6.2px;background:linear-gradient(90deg,#1b6f30 0%,#3dcd58 38.0%,#3dcd58 100%);"></div>
<div class="t " style="left:685.0px;top:293.05px;font-size:8.7px;line-height:8.7px;color:#fff;font-weight:bold;transform:translateX(-100%);">49.4M</div>
<div class="t " style="left:146px;top:324.30px;font-size:8.4px;line-height:8.4px;color:#333;font-weight:normal;">10.</div>
<div class="t rt" style="left:158.5px;top:324.62px;font-size:8.16px;line-height:8.16px;color:#333;font-weight:normal;">实习生、学徒和应届毕业生的聘用人数增加一倍，为下一代创造机会<sup>3</sup></div>
<div class="t " style="left:554px;top:323.80px;font-size:8.6px;line-height:8.6px;color:#333;font-weight:normal;transform:translateX(-100%);">4,939</div>
<div class="t " style="left:567.5px;top:324.15px;font-size:7.9px;line-height:7.9px;color:#a8a8a8;font-weight:normal;transform:translateX(-50%);">x1</div>
<div class="t " style="left:700px;top:323.80px;font-size:8.6px;line-height:8.6px;color:#333;font-weight:normal;">x2</div>
<div class="abs hatch" style="left:578.2px;top:321.90px;width:110.5px;height:12.4px;"></div>
<div class="abs" style="left:578.2px;top:321.90px;width:59.30px;height:12.4px;border-radius:6.2px 0px 0px 6.2px;background:linear-gradient(90deg,#1b6f30 0%,#3dcd58 45.5%,#3dcd58 100%);"></div>
<div class="t " style="left:636.3px;top:323.95px;font-size:8.7px;line-height:8.7px;color:#fff;font-weight:bold;transform:translateX(-100%);">x1.43</div>
<div class="t " style="left:146px;top:339.40px;font-size:8.4px;line-height:8.4px;color:#333;font-weight:normal;">11.</div>
<div class="t rt" style="left:158.5px;top:339.72px;font-size:8.16px;line-height:8.16px;color:#333;font-weight:normal;">在能源管理领域，为100万弱势群体提供培训<sup>7</sup></div>
<div class="t " style="left:554px;top:338.90px;font-size:8.6px;line-height:8.6px;color:#333;font-weight:normal;transform:translateX(-100%);">281,737</div>
<div class="t " style="left:567px;top:339.25px;font-size:7.9px;line-height:7.9px;color:#bdbdbd;font-weight:normal;transform:translateX(-50%);">0</div>
<div class="t " style="left:700px;top:338.90px;font-size:8.6px;line-height:8.6px;color:#333;font-weight:normal;">1M</div>
<div class="abs hatch" style="left:578.2px;top:337.70px;width:110.5px;height:12.4px;"></div>
<div class="abs" style="left:578.2px;top:337.70px;width:74.80px;height:12.4px;border-radius:6.2px 0px 0px 6.2px;background:linear-gradient(90deg,#1b6f30 0%,#3dcd58 36.1%,#3dcd58 100%);"></div>
<div class="t " style="left:651.8px;top:339.75px;font-size:8.7px;line-height:8.7px;color:#fff;font-weight:bold;transform:translateX(-100%);">681,911</div>
<div class="t rt" style="left:147px;top:369.82px;font-size:8.16px;line-height:8.16px;color:#333;font-weight:normal;">+1.根据公司可持续发展的转型要求，所有国家和地区承诺践行对本地产生积极影响的举措</div>
<div class="t " style="left:554px;top:369.00px;font-size:8.6px;line-height:8.6px;color:#333;font-weight:normal;transform:translateX(-100%);">0%</div>
<div class="t " style="left:567px;top:369.35px;font-size:7.9px;line-height:7.9px;color:#bdbdbd;font-weight:normal;transform:translateX(-50%);">0%</div>
<div class="t " style="left:700px;top:369.00px;font-size:8.6px;line-height:8.6px;color:#333;font-weight:normal;">100%</div>
<div class="abs" style="left:578.2px;top:366.40px;width:110.50px;height:12.4px;border-radius:6.2px 6.2px 6.2px 6.2px;background:linear-gradient(90deg,#13577e 0%,#3db0e6 36.2%,#3db0e6 100%);"></div>
<div class="t " style="left:681.7px;top:368.45px;font-size:8.7px;line-height:8.7px;color:#fff;font-weight:bold;transform:translateX(-100%);">100%</div>
<div class="t " style="left:32px;top:406.30px;font-size:6.6px;line-height:6.6px;color:#444;font-weight:normal;">**Per Schneider Electric definition and methodology</div>
<div class="t " style="left:188.8px;top:406.30px;font-size:6.6px;line-height:6.6px;color:#444;font-weight:normal;"><span style="font-size:4.8px;position:relative;top:-2px;margin-right:0.8px">1</span>2021 baseline 3/10, 2025 ambition 10/10</div>
<div class="t " style="left:318px;top:406.30px;font-size:6.6px;line-height:6.6px;color:#444;font-weight:normal;"><span style="font-size:4.8px;position:relative;top:-2px;margin-right:0.8px">2</span>Current cycle baseline</div>
<div class="t " style="left:32.2px;top:416.90px;font-size:6.6px;line-height:6.6px;color:#444;font-weight:normal;"><span style="font-size:4.8px;position:relative;top:-2px;margin-right:0.8px">3</span>2019 baseline</div>
<div class="t " style="left:89.5px;top:416.90px;font-size:6.6px;line-height:6.6px;color:#444;font-weight:normal;"><span style="font-size:4.8px;position:relative;top:-2px;margin-right:0.8px">4</span>cumulated since 2018</div>
<div class="t " style="left:169px;top:416.90px;font-size:6.6px;line-height:6.6px;color:#444;font-weight:normal;"><span style="font-size:4.8px;position:relative;top:-2px;margin-right:0.8px">5</span>2022 baseline</div>
<div class="t " style="left:225.3px;top:416.90px;font-size:6.6px;line-height:6.6px;color:#444;font-weight:normal;"><span style="font-size:4.8px;position:relative;top:-2px;margin-right:0.8px">6</span>2021 baseline</div>
<div class="t " style="left:282.3px;top:416.90px;font-size:6.6px;line-height:6.6px;color:#444;font-weight:normal;"><span style="font-size:4.8px;position:relative;top:-2px;margin-right:0.8px">7</span>cumulated since 2009</div>
<div class="t " style="left:607.5px;top:406.80px;font-size:14.2px;line-height:14.2px;color:#3dcd58;font-weight:normal;letter-spacing:-0.8px;-webkit-text-stroke:0.45px #fff;">Life Is</div>
<div class="t " style="left:655.2px;top:406.80px;font-size:14.2px;line-height:14.2px;color:#3dcd58;font-weight:normal;-webkit-text-stroke:0.45px #fff;">n</div>
<svg class="abs" style="left:641.8px;top:406.2px" width="14" height="15" viewBox="0 0 14 15"><path d="M4.0,4.74 A4.9,4.9 0 1 0 10.0,4.74" stroke="#3dcd58" stroke-width="1.1" fill="none"/><path d="M7,1.6 V7.2" stroke="#3dcd58" stroke-width="1.1"/></svg>
<div class="abs" style="left:670px;top:398.5px;width:1px;height:30.5px;background:#cfcfcf"></div>
<div class="t " style="left:679.2px;top:405.30px;font-size:14.6px;line-height:14.6px;color:#259a45;font-weight:bold;transform-origin:0 50%;transform:scaleX(1.085);-webkit-text-stroke:0.2px #259a45;">Schneider</div>
<div class="t " style="left:711.6px;top:419.80px;font-size:8.6px;line-height:8.6px;color:#2d9a43;font-weight:normal;letter-spacing:1.85px;-webkit-text-stroke:0.2px #2d9a43;">Electric</div>
<svg class="abs" style="left:694px;top:414px" width="20" height="18" viewBox="0 0 20 18">
<rect x="8.1" y="4" width="9" height="11" rx="3.6" transform="skewX(-15)" fill="#2d9a43"/>
<path d="M13.8,6.6 C11.6,5.6 10.3,6.4 9.9,8.4 L9.5,10.4 C9.1,12.4 7.6,12.9 5.4,12.4" stroke="#fff" stroke-width="1.25" fill="none" stroke-linecap="round"/>
<path d="M4.4,8.6 H6.6 M4.2,10.1 H6.2 M14.6,8 H16.4 M14.2,9.5 H16" stroke="#2d9a43" stroke-width="0.8"/>
</svg>
</div></body></html>
